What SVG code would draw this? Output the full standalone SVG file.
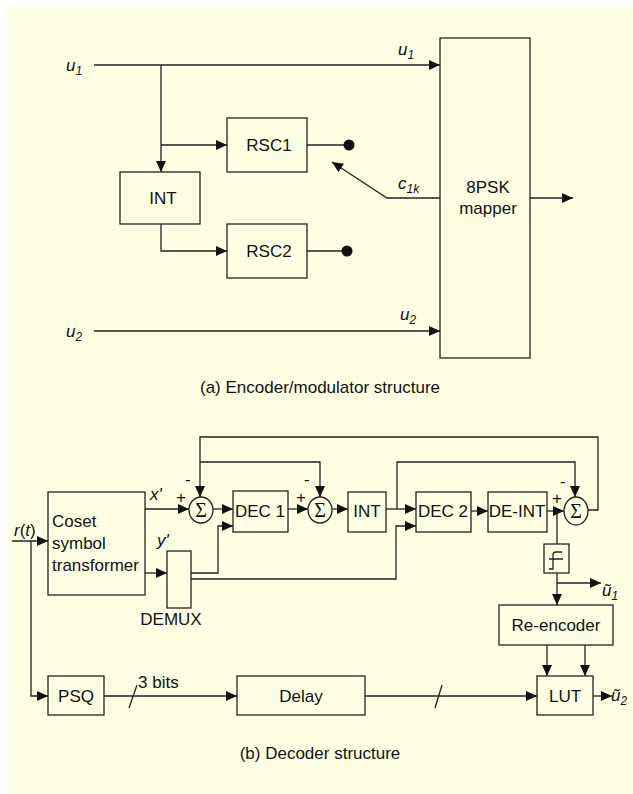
<svg xmlns="http://www.w3.org/2000/svg" width="633" height="794" viewBox="0 0 633 794">
<style>
.bx{fill:none;stroke:#222;stroke-width:1.3}
.ln{fill:none;stroke:#222;stroke-width:1.3}
.ar{fill:none;stroke:#222;stroke-width:1.3;marker-end:url(#ah)}
.t{font-family:"Liberation Sans",Arial,sans-serif;font-size:17px;fill:#111}
.c{text-anchor:middle}
.i{font-style:italic}
.s{font-size:12px}
.sg{font-family:"Liberation Serif","Times New Roman",serif;font-size:20px;fill:#111;text-anchor:middle}
</style>
<defs>
<marker id="ah" markerUnits="userSpaceOnUse" markerWidth="12" markerHeight="11" refX="11" refY="5" orient="auto">
<path d="M0,0 L11,5 L0,10 z" fill="#111"/>
</marker>
</defs>
<rect x="0" y="0" width="633" height="794" fill="#ffffff"/>
<rect x="7" y="7" width="626" height="787" fill="#ffffe4"/>

<!-- Encoder -->
<g id="connectors-a">
<line class="ar" x1="94" y1="65" x2="440" y2="65"/>
<line class="ar" x1="161" y1="65" x2="161" y2="172"/>
<line class="ar" x1="161" y1="145" x2="227" y2="145"/>
<polyline class="ar" points="161,224 161,251 227,251"/>
<line class="ln" x1="307" y1="145" x2="349" y2="145"/>
<line class="ln" x1="307" y1="251" x2="347" y2="251"/>
<circle cx="349" cy="145" r="5.5" fill="#111"/>
<circle cx="347" cy="251" r="5.5" fill="#111"/>
<polyline class="ar" points="440,198 387,198 332,162"/>
<line class="ar" x1="530" y1="198" x2="573" y2="198"/>
<line class="ar" x1="94" y1="331" x2="440" y2="331"/>
</g>
<g id="label-u1-in"><text class="t i" x="66" y="71">u<tspan class="s" dy="4">1</tspan></text></g>
<g id="label-u1"><text class="t i" x="398" y="55">u<tspan class="s" dy="4">1</tspan></text></g>
<g id="label-u2-in"><text class="t i" x="66" y="337">u<tspan class="s" dy="4">2</tspan></text></g>
<g id="label-u2"><text class="t i" x="400" y="320">u<tspan class="s" dy="4">2</tspan></text></g>
<g id="label-c1k"><text class="t i" x="398" y="189">c<tspan class="s" dy="4">1k</tspan></text></g>
<g id="rsc1"><rect class="bx" x="227" y="118" width="80" height="54"/><text class="t c" x="269" y="151">RSC1</text></g>
<g id="rsc2"><rect class="bx" x="227" y="224" width="80" height="54"/><text class="t c" x="269" y="257">RSC2</text></g>
<g id="int-a"><rect class="bx" x="120" y="172" width="80" height="52"/><text class="t c" x="163" y="204">INT</text></g>
<g id="mapper"><rect class="bx" x="440" y="38" width="90" height="320"/><text class="t c" x="488" y="193">8PSK</text><text class="t c" x="488" y="214">mapper</text></g>
<g id="caption-a"><text class="t c" x="320" y="393">(a) Encoder/modulator structure</text></g>

<!-- Decoder -->
<g id="connectors-b">
<polyline class="ar" points="12,541 48,541"/>
<polyline class="ar" points="31,541 31,696 48,696"/>
<line class="ar" x1="145" y1="509" x2="189" y2="509"/>
<line class="ar" x1="145" y1="573" x2="167" y2="573"/>
<polyline class="ar" points="191,573 218,573 218,526 233,526"/>
<polyline class="ar" points="191,579 396,579 396,526 416,526"/>
<line class="ar" x1="213" y1="509" x2="233" y2="509"/>
<line class="ar" x1="288" y1="509" x2="308" y2="509"/>
<line class="ar" x1="332" y1="509" x2="348" y2="509"/>
<line class="ar" x1="386" y1="509" x2="416" y2="509"/>
<polyline class="ar" points="397,509 397,462 575,462 575,497"/>
<line class="ar" x1="471" y1="511" x2="488" y2="511"/>
<line class="ar" x1="547" y1="511" x2="564" y2="511"/>
<polyline class="ar" points="588,510 598,510 598,437 200,437 200,497"/>
<polyline class="ar" points="200,462 320,462 320,497"/>
<line class="ln" x1="557" y1="511" x2="557" y2="544"/>
<line class="ar" x1="557" y1="573" x2="557" y2="605"/>
<line class="ar" x1="557" y1="583" x2="601" y2="583"/>
<line class="ar" x1="547" y1="645" x2="547" y2="676"/>
<line class="ar" x1="585" y1="645" x2="585" y2="676"/>
<line class="ar" x1="104" y1="696" x2="237" y2="696"/>
<line class="ar" x1="365" y1="696" x2="537" y2="696"/>
<line class="ar" x1="593" y1="696" x2="612" y2="696"/>
<line class="ln" x1="129" y1="708" x2="137" y2="685"/>
<line class="ln" x1="435" y1="708" x2="442" y2="685"/>
</g>
<g id="label-rt"><text class="t" x="14" y="536"><tspan class="i">r</tspan>(<tspan class="i">t</tspan>)</text></g>
<g id="coset"><rect class="bx" x="48" y="492" width="97" height="103"/><text class="t" x="52" y="527">Coset</text><text class="t" x="52" y="549">symbol</text><text class="t" x="52" y="571">transformer</text></g>
<g id="label-x"><text class="t i" x="150" y="500">x'</text></g>
<g id="label-y"><text class="t i" x="157" y="546">y'</text></g>
<g id="demux"><rect class="bx" x="167" y="551" width="24" height="57"/><text class="t c" x="171" y="625">DEMUX</text></g>
<g id="sum1"><ellipse class="bx" cx="201" cy="510" rx="12" ry="13"/><text class="sg" x="201" y="517">Σ</text><text class="t" x="176" y="503">+</text><text class="t" x="185" y="485">-</text></g>
<g id="dec1"><rect class="bx" x="233" y="491" width="55" height="41"/><text class="t c" x="260" y="517">DEC 1</text></g>
<g id="sum2"><ellipse class="bx" cx="320" cy="510" rx="12" ry="13"/><text class="sg" x="320" y="517">Σ</text><text class="t" x="296" y="503">+</text><text class="t" x="304" y="485">-</text></g>
<g id="int-b"><rect class="bx" x="348" y="492" width="38" height="40"/><text class="t c" x="367" y="517">INT</text></g>
<g id="dec2"><rect class="bx" x="416" y="492" width="55" height="40"/><text class="t c" x="443" y="517">DEC 2</text></g>
<g id="deint"><rect class="bx" x="488" y="492" width="59" height="40"/><text class="t c" x="517" y="517">DE-INT</text></g>
<g id="sum3"><ellipse class="bx" cx="576" cy="511" rx="12" ry="14"/><text class="sg" x="576" y="518">Σ</text><text class="t" x="552" y="504">+</text><text class="t" x="560" y="487">-</text></g>
<g id="limiter"><rect class="bx" x="544" y="544" width="25" height="29"/><path class="ln" d="M549,569 H553 V555 Q553,552 556,552 H562 M549,559 H563"/></g>
<g id="label-u1-out"><text class="t i" x="602" y="596">ũ<tspan class="s" dy="4">1</tspan></text></g>
<g id="reencoder"><rect class="bx" x="499" y="605" width="114" height="40"/><text class="t c" x="556" y="631">Re-encoder</text></g>
<g id="psq"><rect class="bx" x="48" y="676" width="56" height="39"/><text class="t c" x="76" y="702">PSQ</text></g>
<g id="label-3bits"><text class="t" x="138" y="688">3 bits</text></g>
<g id="delay"><rect class="bx" x="237" y="676" width="128" height="39"/><text class="t c" x="301" y="702">Delay</text></g>
<g id="lut"><rect class="bx" x="537" y="676" width="56" height="39"/><text class="t c" x="565" y="702">LUT</text></g>
<g id="label-u2-out"><text class="t i" x="611" y="701">ũ<tspan class="s" dy="4">2</tspan></text></g>
<g id="caption-b"><text class="t c" x="320" y="759">(b) Decoder structure</text></g>
</svg>
